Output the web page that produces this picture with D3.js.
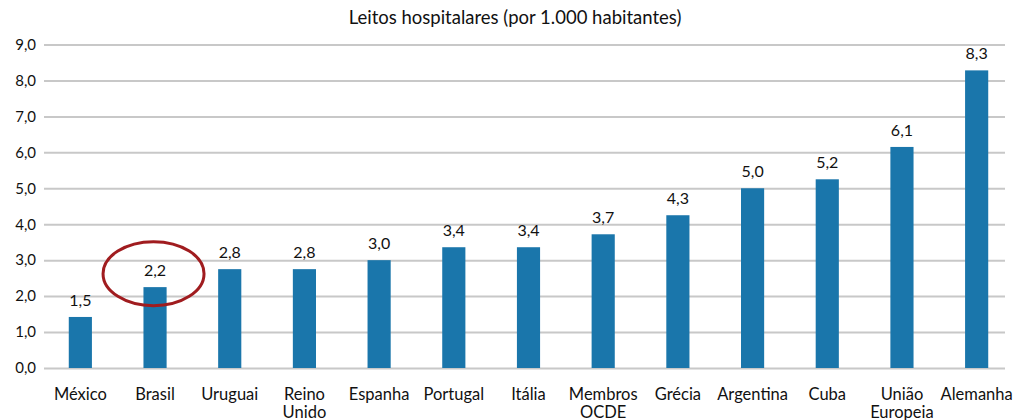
<!DOCTYPE html>
<meta charset="utf-8">
<script src="https://d3js.org/d3.v7.min.js"></script>
<style>
  body { margin: 0; background: #fff; }
  text { font-family: Lato, "Open Sans", sans-serif; fill: #111; }
</style>
<div id="chart"></div>
<script>
// data
var paises = ["México", "Brasil", "Uruguai", "Reino Unido", "Espanha", "Portugal", "Itália",
              "Membros OCDE", "Grécia", "Argentina", "Cuba", "União Europeia", "Alemanha"];
var leitos = [1.42, 2.25, 2.75, 2.75, 3.0, 3.36, 3.36, 3.72, 4.25, 5.0, 5.25, 6.15, 8.28];
var rotulos = ["1,5", "2,2", "2,8", "2,8", "3,0", "3,4", "3,4", "3,7", "4,3", "5,0", "5,2", "6,1", "8,3"];
var yTicks = [0, 1, 2, 3, 4, 5, 6, 7, 8, 9];
var destaque = "Brasil";

var W = 1017, H = 420;

var svg = d3.select("#chart").append("svg")
    .attr("width", W)
    .attr("height", H);

var x = d3.scaleBand()
    .domain(paises)
    .range([43, 1014])
    .paddingInner(0.69)
    .paddingOuter(0.345);

var y = d3.scaleLinear()
    .domain([0, 9])
    .range([368, 44.5]);

// title
svg.append("text")
    .attr("x", 515)
    .attr("y", 24)
    .attr("text-anchor", "middle")
    .style("font-size", "18.5px")
    .text("Leitos hospitalares (por 1.000 habitantes)");

// y axis + gridlines
var yAxis = svg.append("g")
    .attr("transform", "translate(44,0)")
    .call(d3.axisLeft(y)
        .tickValues(yTicks)
        .tickSize(-961)
        .tickPadding(8)
        .tickFormat(function(d) { return d3.format(".1f")(d).replace(".", ","); }));
yAxis.select(".domain").remove();
yAxis.selectAll(".tick line")
    .attr("stroke", "#c8c8c8")
    .attr("stroke-width", 2);
yAxis.selectAll(".tick text")
    .style("font-size", "15px")
    .style("font-family", "Lato, 'Open Sans', sans-serif")
    .attr("fill", "#111");

// bars
svg.selectAll(".bar")
    .data(paises)
  .enter().append("rect")
    .attr("class", "bar")
    .attr("x", function(d) { return x(d); })
    .attr("width", x.bandwidth())
    .attr("y", function(d, i) { return y(leitos[i]); })
    .attr("height", function(d, i) { return y(0) - y(leitos[i]); })
    .attr("fill", "#1a76ab");

// value labels
svg.selectAll(".valor")
    .data(paises)
  .enter().append("text")
    .attr("class", "valor")
    .attr("x", function(d) { return x(d) + x.bandwidth() / 2; })
    .attr("y", function(d, i) { return y(leitos[i]) - 11; })
    .attr("text-anchor", "middle")
    .style("font-size", "16px")
    .text(function(d, i) { return rotulos[i]; });

// category labels (split on space into two lines)
var cat = svg.selectAll(".cat")
    .data(paises)
  .enter().append("text")
    .attr("class", "cat")
    .attr("text-anchor", "middle")
    .attr("transform", function(d) { return "translate(" + (x(d) + x.bandwidth() / 2) + ",400)"; })
    .style("font-size", "16.5px");
cat.selectAll("tspan")
    .data(function(d) { return d.split(" "); })
  .enter().append("tspan")
    .attr("x", 0)
    .attr("dy", function(d, i) { return i === 0 ? 0 : 18; })
    .text(function(d) { return d; });

// highlight ellipse around Brasil
var ib = paises.indexOf(destaque);
svg.append("ellipse")
    .attr("cx", x(destaque) + x.bandwidth() / 2 - 1.5)
    .attr("cy", y(leitos[ib]) - 13.5)
    .attr("rx", 50.5)
    .attr("ry", 32)
    .attr("fill", "none")
    .attr("stroke", "#a01c1f")
    .attr("stroke-width", 3);
</script>
